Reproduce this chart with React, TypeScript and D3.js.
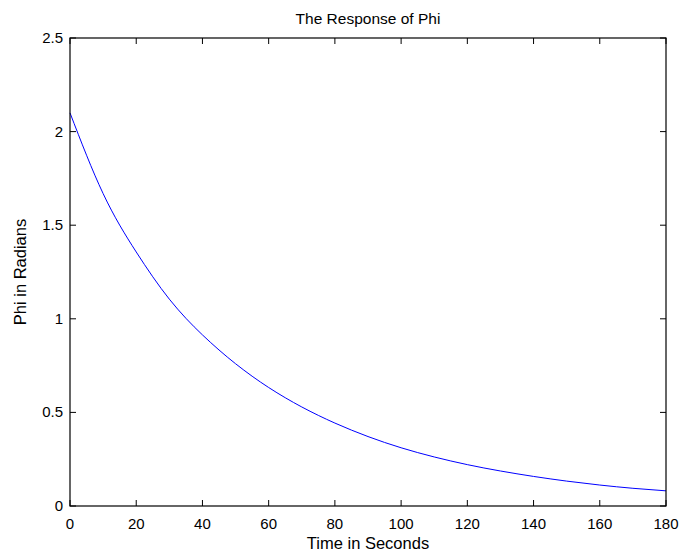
import React from "react";
import * as d3 from "d3";

const times = [0, 10, 20, 30, 40, 50, 60, 70, 80, 90, 100, 110, 120, 130, 140, 150, 160, 170, 180];
const phi = [2.1, 1.669, 1.357, 1.105, 0.914, 0.76, 0.633, 0.529, 0.443, 0.371, 0.311, 0.262, 0.221, 0.187, 0.158, 0.133, 0.112, 0.0946, 0.081];
const xTicks = [0, 20, 40, 60, 80, 100, 120, 140, 160, 180];
const yTicks = [0, 0.5, 1, 1.5, 2, 2.5];
const yTickLabels = ["0", "0.5", "1", "1.5", "2", "2.5"];

const W = 681, H = 556;
const L = 70, R = 666, T = 38, B = 506;
const FONT = "'Liberation Sans', Arial, sans-serif";

export default function App() {
  const x = d3.scaleLinear().domain([0, 180]).range([L, R]);
  const y = d3.scaleLinear().domain([0, 2.5]).range([B, T]);
  const line = d3.line<number>().x((_, i) => x(times[i])).y((d) => y(d)).curve(d3.curveNatural);
  const tl = 6;
  return (
    <svg width={W} height={H} style={{ position: "absolute", left: 0, top: 0, background: "#fff" }}>
      <rect x={0} y={0} width={W} height={H} fill="#fff" />
      <path d={line(phi) || ""} fill="none" stroke="#0000ff" strokeWidth={1} />
      {xTicks.map((t) => (
        <g key={"x" + t}>
          <line x1={x(t)} x2={x(t)} y1={B} y2={B - tl} stroke="#000" />
          <line x1={x(t)} x2={x(t)} y1={T} y2={T + tl} stroke="#000" />
          <text x={x(t)} y={529} fontFamily={FONT} fontSize={15} textAnchor="middle">{t}</text>
        </g>
      ))}
      {yTicks.map((t, i) => (
        <g key={"y" + t}>
          <line x1={L} x2={L + tl} y1={y(t)} y2={y(t)} stroke="#000" />
          <line x1={R} x2={R - tl} y1={y(t)} y2={y(t)} stroke="#000" />
          <text x={L - 7} y={y(t) + 5} fontFamily={FONT} fontSize={15} textAnchor="end">{yTickLabels[i]}</text>
        </g>
      ))}
      <rect x={L} y={T} width={R - L} height={B - T} fill="none" stroke="#000" strokeWidth={1.2} />
      <text x={(L + R) / 2} y={24} fontFamily={FONT} fontSize={15.5} textAnchor="middle">The Response of Phi</text>
      <text x={(L + R) / 2} y={549} fontFamily={FONT} fontSize={16.5} textAnchor="middle">Time in Seconds</text>
      <text transform={`translate(26,${(T + B) / 2}) rotate(-90)`} fontFamily={FONT} fontSize={16.5} textAnchor="middle">Phi in Radians</text>
    </svg>
  );
}
